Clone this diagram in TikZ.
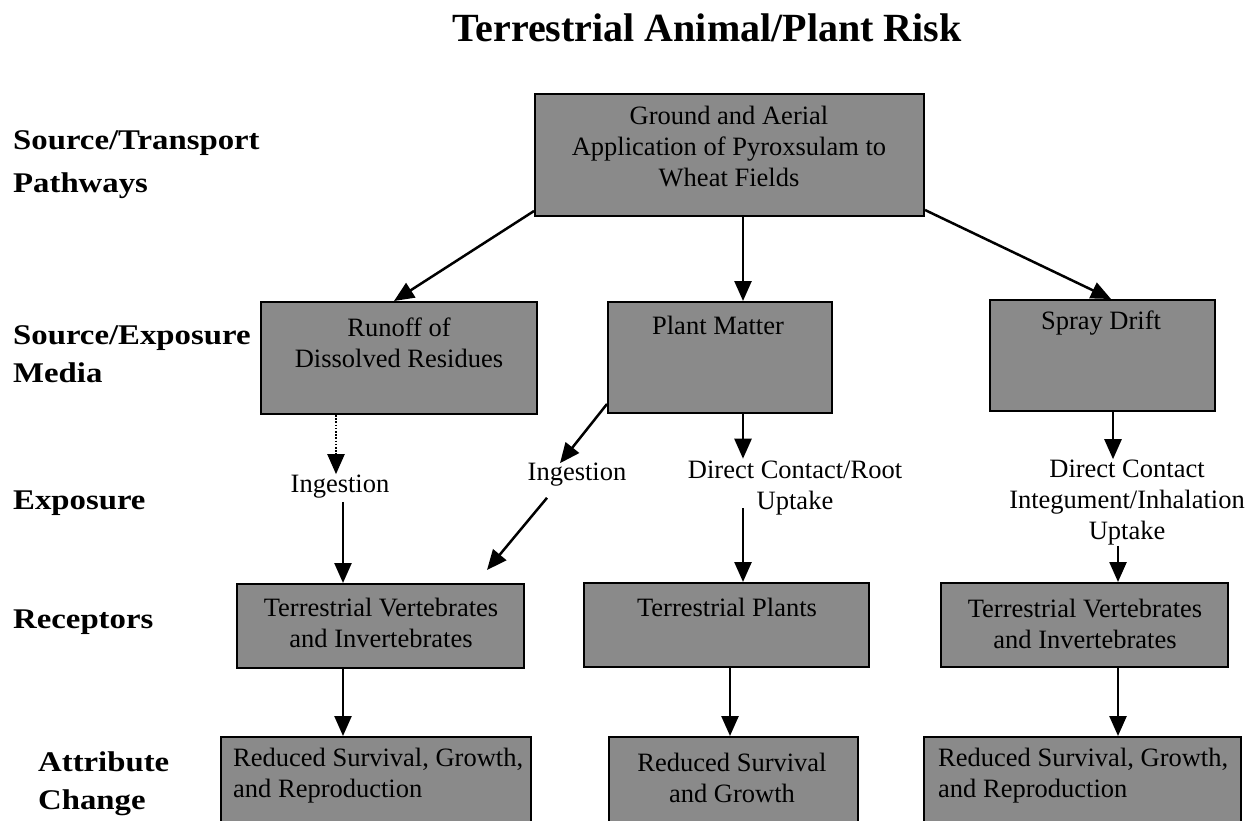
\documentclass[tikz,border=0pt]{standalone}
\usepackage{fontspec}
\setmainfont{Liberation Serif}
\newfontfamily\lblfont[FakeStretch=1.15]{Liberation Serif}
\usetikzlibrary{arrows.meta,calc}

\begin{document}
\begin{tikzpicture}[x=1pt,y=-1pt,
  box/.style={draw=black, line width=2pt, fill=black!46, inner sep=0pt, anchor=north west},
  txt/.style={font=\fontsize{26.5}{31}\selectfont, align=center, inner sep=0pt},
  lbl/.style={font=\lblfont\bfseries\fontsize{28.5}{38}\selectfont, align=left, anchor=west, inner sep=0pt},
  arr/.style={line width=2.5pt, -{Triangle[length=20pt,width=17pt]}},
  dotarr/.style={line width=2.2pt, dash pattern=on 1.6pt off 1.6pt, -{Triangle[length=20pt,width=17pt]}},
]
\path[use as bounding box, clip] (0,0) rectangle (1257,821);
\fill[white] (0,0) rectangle (1257,821);

% title
\node[font=\bfseries\fontsize{40}{46}\selectfont, inner sep=0pt] (title) at (707,28) {Terrestrial Animal/Plant Risk};

% row labels
\node[lbl] (l1) at (13,165) {Source/Transport\\[5pt]Pathways};
\node[lbl] (l2) at (13,354) {Source/Exposure\\Media};
\node[lbl] (l3) at (13,503) {Exposure};
\node[lbl] (l4) at (13,622) {Receptors};
\node[lbl] (l5) at (38,784) {Attribute\\Change};

% boxes
\node[box, minimum width=389pt, minimum height=122pt] (top) at (534,93) {};
\node[box, minimum width=276pt, minimum height=112pt] (runoff) at (260,301) {};
\node[box, minimum width=224pt, minimum height=111pt] (plant) at (607,301) {};
\node[box, minimum width=225pt, minimum height=111pt] (spray) at (989,299) {};
\node[box, minimum width=287pt, minimum height=84pt] (recvL) at (236,583) {};
\node[box, minimum width=285pt, minimum height=84pt] (plants) at (583,582) {};
\node[box, minimum width=287pt, minimum height=84pt] (recvR) at (940,582) {};
\node[box, minimum width=310pt, minimum height=100pt] (botL) at (220,736) {};
\node[box, minimum width=249pt, minimum height=100pt] (botM) at (608,736) {};
\node[box, minimum width=317pt, minimum height=100pt] (botR) at (923,736) {};

% box texts
\node[txt] (topT) at (729,147) {Ground and Aerial\\Application of Pyroxsulam to\\Wheat Fields};
\node[txt] (runoffT) at (399,342.5) {Runoff of\\Dissolved Residues};
\node[txt] (plantT) at (718,325) {Plant Matter};
\node[txt] (sprayT) at (1101,323) {Spray Drift};
\node[txt] (recvLT) at (381,623) {Terrestrial Vertebrates\\and Invertebrates};
\node[txt] (plantsT) at (727,607) {Terrestrial Plants};
\node[txt] (recvRT) at (1085,623.5) {Terrestrial Vertebrates\\and Invertebrates};
\node[txt, align=left, anchor=west] (botLT) at (233,776) {Reduced Survival, Growth,\\and Reproduction};
\node[txt] (botMT) at (732,778) {Reduced Survival\\and Growth};
\node[txt, align=left, anchor=west] (botRT) at (938,776) {Reduced Survival, Growth,\\and Reproduction};

% exposure texts
\node[txt] (ing1) at (340,487) {Ingestion};
\node[txt] (ing2) at (577,475) {Ingestion};
\node[txt] (dcM) at (795,488) {Direct Contact/Root\\Uptake};
\node[txt] (dcR) at (1127,503) {Direct Contact\\Integument/Inhalation\\Uptake};

% column coordinates
\coordinate (cLd) at (336,0);
\coordinate (cL) at (343,0);
\coordinate (cM) at (743,0);
\coordinate (cMb) at (730,0);
\coordinate (cR) at (1113,0);
\coordinate (cRb) at (1118,0);

% arrows from top box
\draw[arr] ($(top.south west)+(0,-6)$) -- ($(runoff.north)+(-5,0)$);
\draw[arr] (cM |- top.south) -- (cM |- plant.north);
\draw[arr] ($(top.south east)+(0,-7)$) -- ($(spray.north)+(8.5,0)$);

% left column
\draw[dotarr] (cLd |- runoff.south) -- ($(cLd |- ing1.north)+(0,-1)$);
\draw[arr] ($(cL |- ing1.south)+(0,3)$) -- (cL |- recvL.north);
\draw[arr] (cL |- recvL.south) -- (cL |- botL.north);

% plant matter ingestion
\draw[arr] ($(plant.south west)+(0,-10)$) -- ($(ing2.north)+(-17,0)$);
\draw[arr] ($(ing2.south)+(-30,11)$) -- ($(recvL.north east)+(-38,-13)$);

% middle column
\draw[arr] (cM |- plant.south) -- ($(cM |- dcM.north)+(0,-2)$);
\draw[arr] ($(cM |- dcM.south)+(0,-7)$) -- (cM |- plants.north);
\draw[arr] (cMb |- plants.south) -- (cMb |- botM.north);

% right column
\draw[arr] (cR |- spray.south) -- ($(cR |- dcR.north)+(0,-1)$);
\draw[arr] (cRb |- dcR.south) -- (cRb |- recvR.north);
\draw[arr] (cRb |- recvR.south) -- (cRb |- botR.north);
\end{tikzpicture}
\end{document}
